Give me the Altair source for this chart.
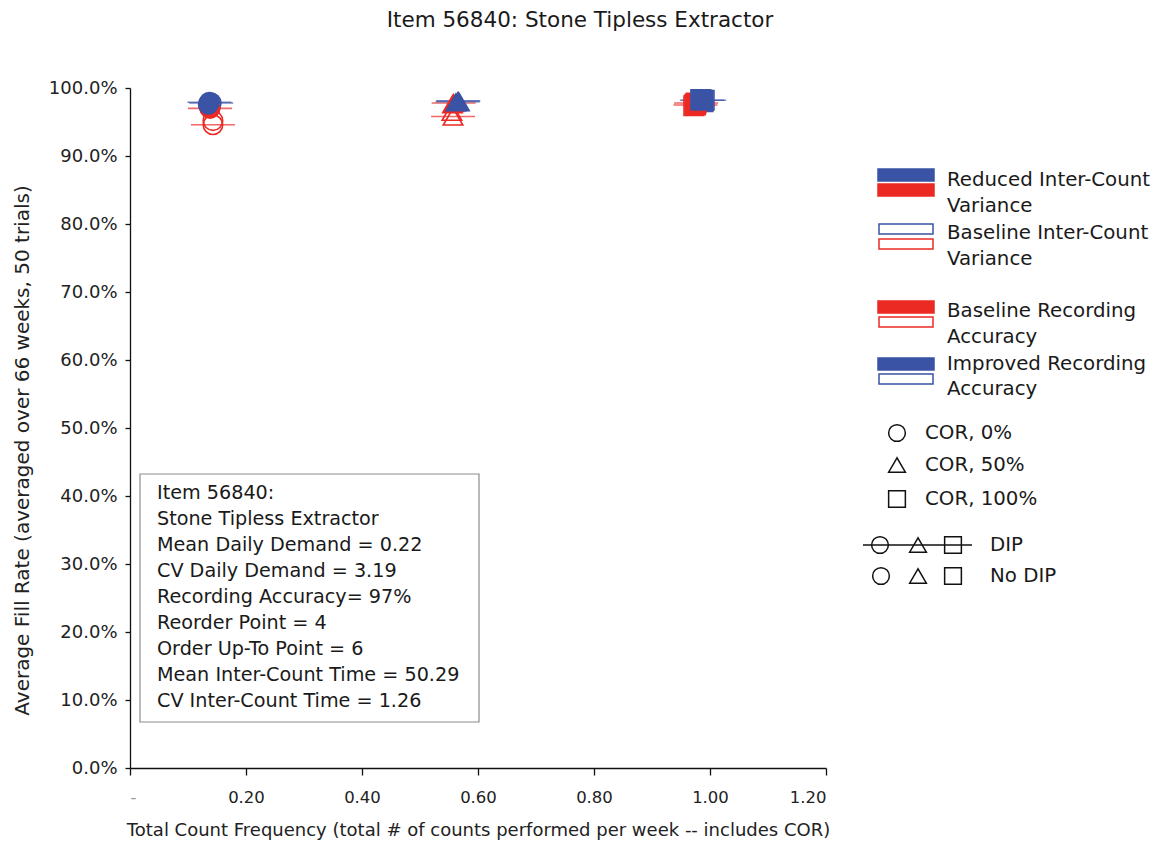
import altair as alt
import pandas as pd

# ---- data -------------------------------------------------------------
cor_levels = ["COR, 0%", "COR, 50%", "COR, 100%"]

# one entry per simulated policy (inter-count variance, recording accuracy, DIP)
series_icv = ["Baseline", "Baseline", "Baseline", "Baseline",
              "Reduced", "Reduced", "Reduced", "Reduced"]
series_ra = ["Baseline", "Baseline", "Improved", "Improved",
             "Baseline", "Baseline", "Improved", "Improved"]
series_dip = ["DIP", "No DIP", "DIP", "No DIP",
              "DIP", "No DIP", "DIP", "No DIP"]

# total count frequency (counts per week) for COR 0%, 50%, 100%
count_freq = [
    [0.143, 0.557, 0.975],
    [0.143, 0.555, 0.972],
    [0.140, 0.566, 0.990],
    [0.139, 0.568, 0.988],
    [0.138, 0.558, 0.976],
    [0.136, 0.556, 0.974],
    [0.137, 0.565, 0.986],
    [0.135, 0.562, 0.984],
]
# average fill rate for COR 0%, 50%, 100%
fill_rate = [
    [0.946, 0.958, 0.975],
    [0.952, 0.965, 0.974],
    [0.978, 0.981, 0.982],
    [0.975, 0.979, 0.980],
    [0.970, 0.978, 0.978],
    [0.973, 0.976, 0.976],
    [0.979, 0.980, 0.982],
    [0.976, 0.979, 0.983],
]

info_lines = [
    "Item 56840:",
    "Stone Tipless Extractor",
    "Mean Daily Demand = 0.22",
    "CV Daily Demand = 3.19",
    "Recording Accuracy= 97%",
    "Reorder Point = 4",
    "Order Up-To Point = 6",
    "Mean Inter-Count Time = 50.29",
    "CV Inter-Count Time = 1.26",
]

x_ticks = [0, 0.2, 0.4, 0.6, 0.8, 1.0, 1.2]
y_ticks = [0, 0.1, 0.2, 0.3, 0.4, 0.5, 0.6, 0.7, 0.8, 0.9, 1.0]

BLUE = "#3a53a5"
RED = "#ec2a24"
FONT = "DejaVu Sans"

rows = []
for i in range(len(series_icv)):
    for j, cor in enumerate(cor_levels):
        rows.append({
            "icv": series_icv[i],
            "ra": series_ra[i],
            "dip": series_dip[i],
            "cor": cor,
            "freq": count_freq[i][j],
            "fill": fill_rate[i][j],
            "color": BLUE if series_ra[i] == "Improved" else RED,
            "opacity": 1.0 if series_icv[i] == "Reduced" else 0.0,
            "order": i,
        })
df = pd.DataFrame(rows)
single = pd.DataFrame({"k": [0]})  # one row for annotation marks

x_enc = alt.X(
    "freq:Q",
    scale=alt.Scale(domain=[0, 1.2], nice=False),
    axis=alt.Axis(
        values=x_ticks,
        labelExpr="datum.value == 0 ? '-' : format(datum.value, '.2f')",
        labelColor={"condition": {"test": "datum.value == 0", "value": "#999999"},
                    "value": "#222222"},
        tickSize=7, labelPadding=14, labelFontSize=16.5, labelFont=FONT,
        title="Total Count Frequency (total # of counts performed per week -- includes COR)",
        titleFont=FONT, titleFontSize=18, titleFontWeight="normal",
        titleColor="#222222", titleY=53,
    ),
)
y_enc = alt.Y(
    "fill:Q",
    scale=alt.Scale(domain=[0, 1], nice=False),
    axis=alt.Axis(
        values=y_ticks, format=".1%",
        tickSize=5, labelPadding=8, labelFontSize=18, labelFont=FONT,
        labelColor="#222222",
        title="Average Fill Rate (averaged over 66 weeks, 50 trials)",
        titleFont=FONT, titleFontSize=20, titleFontWeight="normal",
        titleColor="#222222", titleX=-108, titleY=362, titleBaseline="middle",
    ),
)

shape_scale = alt.Scale(domain=cor_levels, range=["circle", "triangle-up", "square"])

# DIP runs are marked with a horizontal bar through the symbol
dip_bars = alt.Chart(df).transform_filter(alt.datum.dip == "DIP").mark_tick(
    orient="horizontal", size=44, thickness=1.6
).encode(
    x=x_enc, y=y_enc,
    color=alt.Color("color:N", scale=None),
    order=alt.Order("order:Q"),
)

points = alt.Chart(df).mark_point(size=380, strokeWidth=1.6, opacity=1).encode(
    x=x_enc, y=y_enc,
    shape=alt.Shape("cor:N", scale=shape_scale, legend=None),
    stroke=alt.Stroke("color:N", scale=None),
    fill=alt.Fill("color:N", scale=None),
    fillOpacity=alt.FillOpacity("opacity:Q", scale=None),
    order=alt.Order("order:Q"),
)

# ---- annotation box ----------------------------------------------------
box = alt.Chart(single).mark_rect(fill="white", stroke="#8c8c8c", strokeWidth=1.2).encode(
    x=alt.value(10), x2=alt.value(349), y=alt.value(386), y2=alt.value(634)
)
box_text = alt.Chart(single).mark_text(
    text=info_lines, align="left", baseline="top", font=FONT, fontSize=19.2,
    lineHeight=26, color="#1a1a1a",
).encode(x=alt.value(27), y=alt.value(396))

# ---- hand-built legend --------------------------------------------------
patches = pd.DataFrame([
    {"x": 748, "x2": 804, "y": 81, "y2": 93, "c": BLUE, "f": 1.0},
    {"x": 748, "x2": 804, "y": 96, "y2": 108, "c": RED, "f": 1.0},
    {"x": 749, "x2": 803, "y": 136, "y2": 146, "c": BLUE, "f": 0.0},
    {"x": 749, "x2": 803, "y": 151, "y2": 161, "c": RED, "f": 0.0},
    {"x": 748, "x2": 804, "y": 213, "y2": 225, "c": RED, "f": 1.0},
    {"x": 749, "x2": 803, "y": 229, "y2": 239, "c": RED, "f": 0.0},
    {"x": 748, "x2": 804, "y": 270, "y2": 282, "c": BLUE, "f": 1.0},
    {"x": 749, "x2": 803, "y": 286, "y2": 296, "c": BLUE, "f": 0.0},
])
legend_patches = alt.Chart(patches).mark_rect(strokeWidth=1.5).encode(
    x=alt.X("x:Q", scale=None), x2="x2:Q",
    y=alt.Y("y:Q", scale=None), y2="y2:Q",
    stroke=alt.Stroke("c:N", scale=None),
    fill=alt.Fill("c:N", scale=None),
    fillOpacity=alt.FillOpacity("f:Q", scale=None),
)

labels = pd.DataFrame([
    {"x": 817, "y": 92, "t": "Reduced Inter-Count"},
    {"x": 817, "y": 118, "t": "Variance"},
    {"x": 817, "y": 145, "t": "Baseline Inter-Count"},
    {"x": 817, "y": 171, "t": "Variance"},
    {"x": 817, "y": 223, "t": "Baseline Recording"},
    {"x": 817, "y": 249, "t": "Accuracy"},
    {"x": 817, "y": 276, "t": "Improved Recording"},
    {"x": 817, "y": 301, "t": "Accuracy"},
    {"x": 795, "y": 345, "t": "COR, 0%"},
    {"x": 795, "y": 377, "t": "COR, 50%"},
    {"x": 795, "y": 411, "t": "COR, 100%"},
    {"x": 860, "y": 457, "t": "DIP"},
    {"x": 860, "y": 488, "t": "No DIP"},
])
legend_labels = alt.Chart(labels).mark_text(
    align="left", baseline="middle", font=FONT, fontSize=19.8, color="#1a1a1a"
).encode(x=alt.X("x:Q", scale=None), y=alt.Y("y:Q", scale=None), text="t:N")

symbols = pd.DataFrame([
    {"x": 767, "y": 345, "s": "circle"},
    {"x": 767, "y": 377, "s": "triangle-up"},
    {"x": 767, "y": 411, "s": "square"},
    {"x": 750, "y": 457, "s": "circle"},
    {"x": 788, "y": 457, "s": "triangle-up"},
    {"x": 823, "y": 457, "s": "square"},
    {"x": 751, "y": 488, "s": "circle"},
    {"x": 788, "y": 488, "s": "triangle-up"},
    {"x": 823, "y": 488, "s": "square"},
])
legend_symbols = alt.Chart(symbols).mark_point(
    size=280, strokeWidth=1.5, color="#111111", opacity=1
).encode(
    x=alt.X("x:Q", scale=None), y=alt.Y("y:Q", scale=None),
    shape=alt.Shape("s:N", scale=None),
)
legend_dip_line = alt.Chart(single).mark_rule(color="#111111", strokeWidth=1.5).encode(
    x=alt.value(733), x2=alt.value(842), y=alt.value(457)
)

chart = alt.layer(
    dip_bars, points, box, box_text,
    legend_patches, legend_labels, legend_symbols, legend_dip_line,
).properties(
    width=696,
    height=680,
    autosize=alt.AutoSizeParams(type="none"),
    padding={"left": 130, "top": 88, "right": 331, "bottom": 75},
    title=alt.TitleParams(
        text="Item 56840: Stone Tipless Extractor",
        font=FONT, fontSize=21.5, fontWeight="normal", color="#1a1a1a",
        anchor="middle", dx=102, offset=48,
    ),
).configure_view(
    stroke=None
).configure_axis(
    grid=False, domainColor="#111111", tickColor="#111111",
    domainWidth=1.3, tickWidth=1.3,
)

chart.save("out.html", embed_options={"renderer": "svg", "actions": False})
